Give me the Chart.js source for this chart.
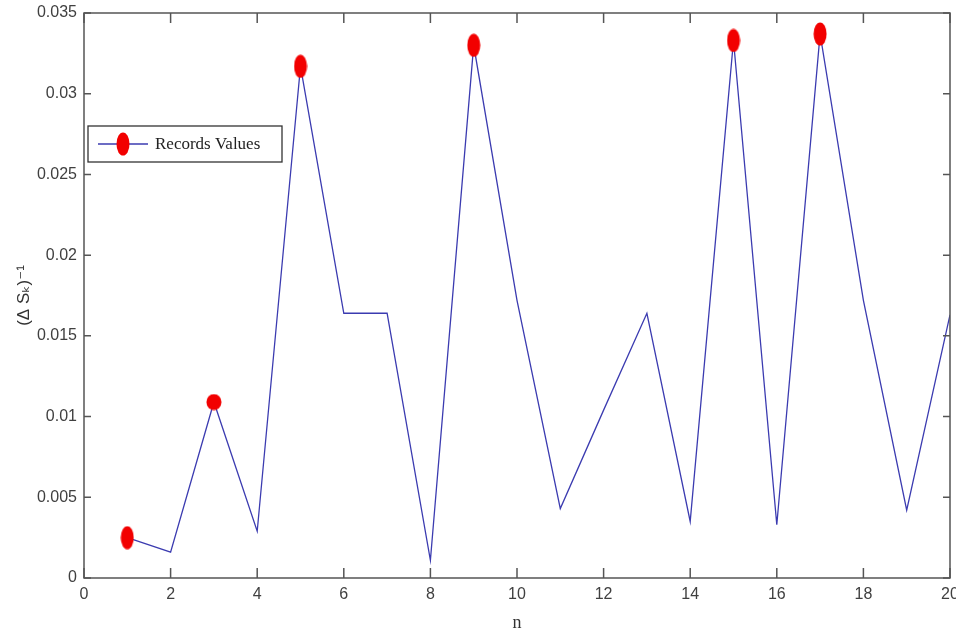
<!DOCTYPE html>
<html>
<head>
<meta charset="utf-8">
<script src="https://cdn.jsdelivr.net/npm/chart.js@4.4.1/dist/chart.umd.min.js"></script>
<style>
  html, body { margin: 0; padding: 0; background: #ffffff; }
  #wrap { width: 956px; height: 635px; position: relative; }
</style>
</head>
<body>
<div id="wrap"><canvas id="c" width="956" height="635"></canvas></div>
<script>
// ---- data ----
const nValues = [1, 2, 3, 4, 5, 6, 7, 8, 9, 10, 11, 12, 13, 14, 15, 16, 17, 18, 19, 20];
const seriesValues = [0.0025, 0.0016, 0.0109, 0.0029, 0.0317, 0.0164, 0.0164, 0.0011, 0.0330, 0.0172,
                      0.0043, 0.0104, 0.0164, 0.0035, 0.0333, 0.0033, 0.0337, 0.0172, 0.0042, 0.0163];
const recordN = [1, 3, 5, 9, 15, 17];
const xTickLabels = ['0', '2', '4', '6', '8', '10', '12', '14', '16', '18', '20'];
const yTickLabels = ['0', '0.005', '0.01', '0.015', '0.02', '0.025', '0.03', '0.035'];
const seriesLabel = 'Records Values';
const xTitle = 'n';
const yTitle = '(\u0394 S\u2096)\u207B\u00B9';

// ---- styles ----
const lineColor = '#3b3bb0';
const markerColor = '#f20000';
const axisColor = '#555555';
const textColor = '#404040';

function makeEllipse(w, h) {
  const cv = document.createElement('canvas');
  cv.width = w; cv.height = h;
  const g = cv.getContext('2d');
  g.fillStyle = markerColor;
  g.beginPath();
  g.ellipse(w / 2, h / 2, w / 2 - 0.5, h / 2 - 0.5, 0, 0, Math.PI * 2);
  g.fill();
  return cv;
}
const tallMarker = makeEllipse(14, 24);
const roundMarker = makeEllipse(16, 17);

const lineData = nValues.map((n, i) => ({ x: n, y: seriesValues[i] }));
const recordData = recordN.map(n => ({ x: n, y: seriesValues[nValues.indexOf(n)] }));

// box + inward ticks (MATLAB style)
const boxPlugin = {
  id: 'boxAxes',
  afterDatasetsDraw(chart) {
    const { ctx, chartArea: a, scales } = chart;
    const xs = scales.x, ys = scales.y;
    ctx.save();
    ctx.strokeStyle = axisColor;
    ctx.lineWidth = 1.5;
    ctx.strokeRect(a.left, a.top, a.right - a.left, a.bottom - a.top);
    ctx.beginPath();
    xs.ticks.forEach(t => {
      const px = xs.getPixelForValue(t.value);
      ctx.moveTo(px, a.bottom); ctx.lineTo(px, a.bottom - 10);
      ctx.moveTo(px, a.top); ctx.lineTo(px, a.top + 10);
    });
    ys.ticks.forEach(t => {
      const py = ys.getPixelForValue(t.value);
      ctx.moveTo(a.left, py); ctx.lineTo(a.left + 7, py);
      ctx.moveTo(a.right, py); ctx.lineTo(a.right - 7, py);
    });
    ctx.stroke();
    ctx.restore();
  }
};

// legend box inside the axes
const legendBoxPlugin = {
  id: 'legendBox',
  afterDraw(chart, args, opts) {
    const { ctx, chartArea: a } = chart;
    const x = a.left + opts.offsetX, y = a.top + opts.offsetY;
    const w = opts.width, h = opts.height;
    const cy = y + h / 2;
    ctx.save();
    ctx.fillStyle = '#ffffff';
    ctx.fillRect(x, y, w, h);
    ctx.strokeStyle = '#333333';
    ctx.lineWidth = 1.3;
    ctx.strokeRect(x, y, w, h);
    ctx.strokeStyle = lineColor;
    ctx.lineWidth = 1.3;
    ctx.beginPath();
    ctx.moveTo(x + 10, cy); ctx.lineTo(x + 60, cy);
    ctx.stroke();
    ctx.drawImage(tallMarker, x + 35 - tallMarker.width / 2, cy - tallMarker.height / 2);
    ctx.fillStyle = '#222222';
    ctx.font = '17px "Liberation Serif", "DejaVu Serif", serif';
    ctx.textBaseline = 'middle';
    ctx.textAlign = 'left';
    ctx.fillText(chart.data.datasets[1].label, x + 67, cy + 1);
    ctx.restore();
  }
};

new Chart(document.getElementById('c'), {
  type: 'line',
  data: {
    datasets: [
      {
        label: 'records',
        data: recordData,
        showLine: false,
        pointStyle: ctx => (ctx.dataIndex === 1 ? roundMarker : tallMarker),
        pointRadius: 8,
        pointHoverRadius: 8,
        order: 0
      },
      {
        label: seriesLabel,
        data: lineData,
        borderColor: lineColor,
        borderWidth: 1.3,
        pointRadius: 0,
        tension: 0,
        fill: false,
        order: 1
      }
    ]
  },
  options: {
    responsive: false,
    animation: false,
    layout: { autoPadding: false, padding: { top: 13, right: 6, bottom: 0, left: 0 } },
    plugins: {
      legend: { display: false },
      tooltip: { enabled: false },
      legendBox: { offsetX: 4, offsetY: 113, width: 194, height: 36 }
    },
    scales: {
      x: {
        type: 'linear',
        min: 0, max: 20,
        grid: { display: false, drawTicks: false },
        border: { display: false },
        ticks: {
          stepSize: 2,
          padding: 7,
          color: textColor,
          font: { family: '"Liberation Sans", Arial, sans-serif', size: 16 },
          maxRotation: 0,
          callback: (v, i) => xTickLabels[i]
        },
        title: {
          display: true,
          text: xTitle,
          color: '#333333',
          font: { family: '"Liberation Serif", serif', size: 18 },
          padding: { top: 0, bottom: 1 }
        },
        afterFit: s => { s.height = 57; s.paddingLeft = 0; s.paddingRight = 0; }
      },
      y: {
        min: 0, max: 0.035,
        grid: { display: false, drawTicks: false },
        border: { display: false },
        ticks: {
          stepSize: 0.005,
          padding: 7,
          color: textColor,
          font: { family: '"Liberation Sans", Arial, sans-serif', size: 16 },
          callback: (v, i) => yTickLabels[i]
        },
        title: {
          display: true,
          text: yTitle,
          color: '#333333',
          font: { family: '"Liberation Sans", "DejaVu Sans", sans-serif', size: 17 },
          padding: { top: 14, bottom: 0 }
        },
        afterFit: s => { s.width = 84; s.paddingTop = 0; s.paddingBottom = 0; }
      }
    }
  },
  plugins: [boxPlugin, legendBoxPlugin]
});
</script>
</body>
</html>
